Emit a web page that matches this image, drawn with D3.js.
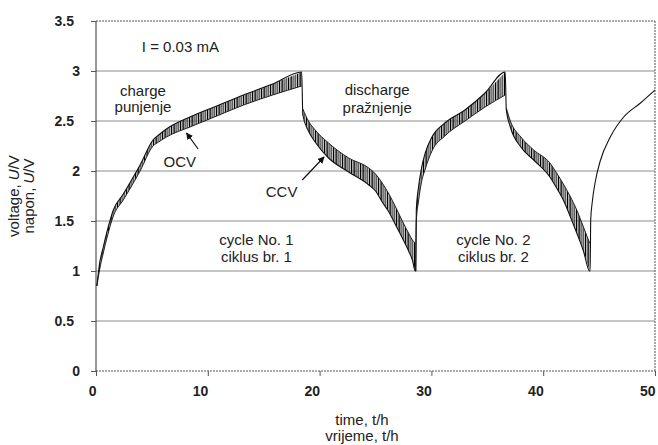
<html>
<head>
<meta charset="utf-8">
<style>
  body { margin: 0; background: #fff; }
  text { font-family: "Liberation Sans", Arial, sans-serif; fill: #222; }
</style>
</head>
<body>
<svg width="658" height="445" id="chart"></svg>
<script src="https://cdn.jsdelivr.net/npm/d3@7"></script>
<script>
// axis ticks
var xTicks = [0, 10, 20, 30, 40, 50];
var yTicks = [0, 0.5, 1, 1.5, 2, 2.5, 3, 3.5];

// cycle 1, charge (t in h, U in V)
var ch1Time = [0.08, 0.3, 0.65, 1.0, 1.55, 2.44, 3.94, 5.1, 5.6, 6.3, 8.4, 10.8, 13.2, 15.8, 18.4];
var ch1CCV  = [0.85, 1.06, 1.24, 1.40, 1.61, 1.77, 2.06, 2.31, 2.36, 2.42, 2.54, 2.65, 2.76, 2.87, 2.99];
var ch1OCV  = [0.85, 1.00, 1.18, 1.34, 1.55, 1.71, 2.00, 2.25, 2.29, 2.34, 2.44, 2.55, 2.66, 2.76, 2.85];

// cycle 1, discharge
var dis1Time = [18.5, 19.0, 19.6, 20.8, 22.6, 24.4, 25.0, 25.6, 26.2, 26.8, 27.4, 28.0, 28.3, 28.55];
var dis1CCV  = [2.56, 2.40, 2.29, 2.13, 1.99, 1.86, 1.80, 1.69, 1.59, 1.46, 1.33, 1.19, 1.11, 1.00];
var dis1OCV  = [2.62, 2.50, 2.41, 2.28, 2.13, 2.03, 1.97, 1.88, 1.77, 1.64, 1.50, 1.37, 1.31, 1.28];

// cycle 2, charge
var ch2Time = [28.6, 28.65, 28.85, 29.1, 29.45, 30.05, 31.2, 33.0, 34.8, 36.6];
var ch2CCV  = [1.00, 1.61, 1.84, 2.02, 2.18, 2.34, 2.48, 2.61, 2.78, 2.99];
var ch2OCV  = [1.00, 1.50, 1.70, 1.88, 2.02, 2.20, 2.35, 2.50, 2.64, 2.76];

// cycle 2, discharge
var dis2Time = [36.7, 37.06, 38.0, 39.15, 40.6, 41.2, 41.8, 42.4, 43.0, 43.6, 44.15];
var dis2CCV  = [2.61, 2.44, 2.24, 2.11, 1.94, 1.83, 1.71, 1.55, 1.38, 1.20, 1.00];
var dis2OCV  = [2.63, 2.50, 2.34, 2.21, 2.08, 1.98, 1.87, 1.75, 1.61, 1.44, 1.28];

// cycle 3, charge (continuous only)
var ch3Time = [44.2, 44.25, 44.4, 44.67, 45.1, 46.0, 47.2, 48.7, 50];
var ch3CCV  = [1.00, 1.51, 1.70, 1.90, 2.10, 2.34, 2.54, 2.68, 2.81];

function zip(t, ccv, ocv) {
  return t.map(function(d, i) {
    return { t: d, ccv: ccv[i], ocv: ocv ? ocv[i] : null };
  });
}

var segments = [
  zip(ch1Time, ch1CCV, ch1OCV),
  zip(dis1Time, dis1CCV, dis1OCV),
  zip(ch2Time, ch2CCV, ch2OCV),
  zip(dis2Time, dis2CCV, dis2OCV)
];
var trace = segments.concat([zip(ch3Time, ch3CCV)]).flat();

var svg = d3.select("#chart");

var x = d3.scaleLinear().domain([0, 50]).range([96, 655]);
var y = d3.scaleLinear().domain([0, 3.5]).range([371, 21]);

// hatch used between the OCV and CCV curves
var defs = svg.append("defs");
var pat = defs.append("pattern")
  .attr("id", "hatch")
  .attr("patternUnits", "userSpaceOnUse")
  .attr("width", 9)
  .attr("height", 400);
[[0, 1.2, "#000"], [1.8, 1.0, "#444"], [3.2, 1.2, "#000"], [4.9, 1.4, "#777"],
 [6.7, 1.0, "#111"], [7.9, 0.7, "#999"]].forEach(function(l) {
  pat.append("rect")
    .attr("x", l[0]).attr("y", 0)
    .attr("width", l[1]).attr("height", 400)
    .attr("fill", l[2]);
});

// grid
svg.append("g")
  .selectAll("line")
  .data(yTicks.filter(function(d) { return d > 0 && d < 3.5; }))
  .enter().append("line")
  .attr("x1", x(0)).attr("x2", x(50))
  .attr("y1", function(d) { return y(d); })
  .attr("y2", function(d) { return y(d); })
  .attr("stroke", "#8c8c8c")
  .attr("stroke-width", 1);

// dotted frame: top, bottom and right
svg.append("g")
  .attr("stroke", "#555")
  .attr("stroke-width", 1)
  .attr("stroke-dasharray", "2,1")
  .selectAll("line")
  .data([[0, 3.5, 50, 3.5], [0, 0, 50, 0], [50, 0, 50, 3.5]])
  .enter().append("line")
  .attr("x1", function(d) { return x(d[0]); })
  .attr("y1", function(d) { return y(d[1]); })
  .attr("x2", function(d) { return x(d[2]); })
  .attr("y2", function(d) { return y(d[3]); });

// axes
var xAxis = svg.append("g")
  .attr("transform", "translate(0," + y(0) + ")")
  .call(d3.axisBottom(x).tickValues(xTicks).tickSize(5).tickPadding(10).tickFormat(d3.format("d")));
xAxis.select(".domain").remove();
xAxis.selectAll(".tick line").attr("stroke", "#555");
xAxis.selectAll(".tick text")
  .attr("text-anchor", "end")
  .attr("x", 0)
  .style("font-size", "14px")
  .style("font-weight", "bold")
  .style("font-family", "Liberation Sans, Arial, sans-serif")
  .attr("fill", "#222");

var yAxis = svg.append("g")
  .attr("transform", "translate(" + x(0) + ",0)")
  .call(d3.axisLeft(y).tickValues(yTicks).tickSize(5).tickPadding(16).tickFormat(function(d) { return String(d); }));
yAxis.select(".domain").attr("stroke", "#333").attr("d", "M0," + y(0) + "V" + y(3.5));
yAxis.selectAll(".tick line").attr("stroke", "#555");
yAxis.selectAll(".tick text")
  .attr("x", function(d) { return Number.isInteger(d) ? -16 : -22; })
  .style("font-size", "14px")
  .style("font-weight", "bold")
  .style("font-family", "Liberation Sans, Arial, sans-serif")
  .attr("fill", "#222");

// hatched bands between OCV and CCV
var band = d3.area()
  .x(function(d) { return x(d.t); })
  .y0(function(d) { return y(d.ocv); })
  .y1(function(d) { return y(d.ccv); })
  .curve(d3.curveMonotoneX);

svg.append("g")
  .selectAll("path")
  .data(segments)
  .enter().append("path")
  .attr("d", band)
  .attr("fill", "url(#hatch)");

// OCV edges
var ocvLine = d3.line()
  .x(function(d) { return x(d.t); })
  .y(function(d) { return y(d.ocv); })
  .curve(d3.curveMonotoneX);

svg.append("g")
  .selectAll("path")
  .data(segments)
  .enter().append("path")
  .attr("d", ocvLine)
  .attr("fill", "none")
  .attr("stroke", "#222")
  .attr("stroke-width", 1);

// CCV trace, all cycles
var ccvLine = d3.line()
  .x(function(d) { return x(d.t); })
  .y(function(d) { return y(d.ccv); })
  .curve(d3.curveMonotoneX);

svg.append("path")
  .datum(trace)
  .attr("d", ccvLine)
  .attr("fill", "none")
  .attr("stroke", "#111")
  .attr("stroke-width", 1.1);

// labels
var notes = [
  { t: 4.1, v: 3.19, text: "I = 0.03 mA", anchor: "start" },
  { t: 4.2, v: 2.75, text: "charge", anchor: "middle" },
  { t: 4.2, v: 2.595, text: "punjenje", anchor: "middle" },
  { t: 7.5, v: 2.037, text: "OCV", anchor: "middle" },
  { t: 16.6, v: 1.74, text: "CCV", anchor: "middle" },
  { t: 25.15, v: 2.76, text: "discharge", anchor: "middle" },
  { t: 25.15, v: 2.585, text: "pražnjenje", anchor: "middle" },
  { t: 14.35, v: 1.26, text: "cycle No. 1", anchor: "middle" },
  { t: 14.35, v: 1.093, text: "ciklus br. 1", anchor: "middle" },
  { t: 35.55, v: 1.26, text: "cycle No. 2", anchor: "middle" },
  { t: 35.55, v: 1.093, text: "ciklus br. 2", anchor: "middle" }
];

svg.append("g")
  .selectAll("text")
  .data(notes)
  .enter().append("text")
  .attr("x", function(d) { return x(d.t); })
  .attr("y", function(d) { return y(d.v); })
  .attr("text-anchor", function(d) { return d.anchor; })
  .style("font-size", "15px")
  .text(function(d) { return d.text; });

// arrows
defs.append("marker")
  .attr("id", "head")
  .attr("viewBox", "0 0 10 10")
  .attr("refX", 9).attr("refY", 5)
  .attr("markerWidth", 7).attr("markerHeight", 7)
  .attr("markerUnits", "userSpaceOnUse")
  .attr("orient", "auto")
  .append("path")
  .attr("d", "M0,0L10,5L0,10z")
  .attr("fill", "#111");

var arrows = [
  { from: [9.13, 2.22], to: [8.1, 2.38] },
  { from: [18.45, 1.91], to: [20.4, 2.14] }
];

svg.append("g")
  .selectAll("line")
  .data(arrows)
  .enter().append("line")
  .attr("x1", function(d) { return x(d.from[0]); })
  .attr("y1", function(d) { return y(d.from[1]); })
  .attr("x2", function(d) { return x(d.to[0]); })
  .attr("y2", function(d) { return y(d.to[1]); })
  .attr("stroke", "#111")
  .attr("stroke-width", 1.2)
  .attr("marker-end", "url(#head)");

// axis titles
var xTitle = svg.append("g").style("font-size", "15px");
xTitle.append("text").attr("x", 362).attr("y", 425).attr("text-anchor", "middle").text("time, t/h");
xTitle.append("text").attr("x", 362).attr("y", 441).attr("text-anchor", "middle").text("vrijeme, t/h");

var yTitle = svg.append("g").style("font-size", "15px");
[["voltage, ", 19], ["napon, ", 34]].forEach(function(r) {
  var tx = yTitle.append("text")
    .attr("transform", "translate(" + r[1] + ",196) rotate(-90)")
    .attr("text-anchor", "middle");
  tx.append("tspan").text(r[0]);
  tx.append("tspan").style("font-style", "italic").text("U");
  tx.append("tspan").text("/V");
});
</script>
</body>
</html>
